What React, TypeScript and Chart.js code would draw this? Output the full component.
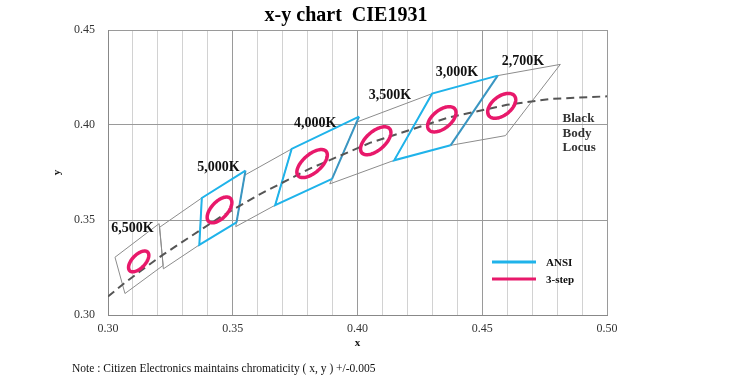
import React, { useEffect, useRef } from "react";
import { Chart, registerables } from "chart.js";

Chart.register(...registerables);

// ANSI C78.377 quadrangle corners: [top-right, top-left, bottom-left, bottom-right]
const q6500X = [0.3205, 0.3028, 0.3068, 0.3221];
const q6500Y = [0.3481, 0.3304, 0.3113, 0.3261];
const q5700X = [0.3376, 0.3207, 0.3222, 0.3366];
const q5700Y = [0.3616, 0.3462, 0.3243, 0.3369];
const q5000X = [0.3551, 0.3376, 0.3366, 0.3515];
const q5000Y = [0.3760, 0.3616, 0.3369, 0.3487];
const q4500X = [0.3736, 0.3548, 0.3512, 0.3670];
const q4500Y = [0.3874, 0.3736, 0.3465, 0.3578];
const q4000X = [0.4006, 0.3736, 0.3670, 0.3898];
const q4000Y = [0.4044, 0.3874, 0.3578, 0.3716];
const q3500X = [0.4299, 0.3996, 0.3889, 0.4147];
const q3500Y = [0.4165, 0.4015, 0.3690, 0.3814];
const q3000X = [0.4562, 0.4299, 0.4147, 0.4373];
const q3000Y = [0.4260, 0.4165, 0.3814, 0.3893];
const q2700X = [0.4813, 0.4562, 0.4373, 0.4593];
const q2700Y = [0.4319, 0.4260, 0.3893, 0.3944];

// Black body locus (dashed)
const locusX = [0.3000, 0.3064, 0.3135, 0.3221, 0.3325, 0.3451, 0.3608, 0.3805, 0.4052, 0.4369, 0.4599, 0.4770, 0.5000];
const locusY = [0.3097, 0.3166, 0.3236, 0.3318, 0.3408, 0.3516, 0.3635, 0.3768, 0.3907, 0.4041, 0.4106, 0.4137, 0.4151];

// 3-step ellipses
const ellCx = [0.3123, 0.3447, 0.3818, 0.4073, 0.4338, 0.4578];
const ellCy = [0.3282, 0.3553, 0.3797, 0.3917, 0.4030, 0.4101];
const ellA = [0.00615, 0.00758, 0.00865, 0.00855, 0.00768, 0.00747];
const ellB = [0.00293, 0.00363, 0.00413, 0.00424, 0.00419, 0.00431];
const ellDeg = [58.6, 59.6, 53.7, 54.0, 53.2, 53.7];

// CCT labels
const cctLabels = ["6,500K", "5,000K", "4,000K", "3,500K", "3,000K", "2,700K"];
const cctLabelX = [0.3098, 0.3443, 0.3830, 0.4130, 0.4399, 0.4663];
const cctLabelY = [0.3457, 0.3779, 0.4011, 0.4156, 0.4279, 0.4335];

const locusText = ["Black", "Body", "Locus"];
const locusTextX = 0.4822;
const locusTextY = [0.4034, 0.3955, 0.3879];

const seriesNames = ["ANSI", "3-step"];

const GRAY = "#8c8c8c";
const BLUE = "#1fb3ea";
const BLUE_DARK = "#3a96c2";
const PINK = "#e8196b";
const SERIF = "'Liberation Serif', 'Times New Roman', serif";

const pts = (xs: number[], ys: number[], idx: number[]) => idx.map((i) => ({ x: xs[i], y: ys[i] }));

const grayQuad = (xs: number[], ys: number[]) => ({
  data: pts(xs, ys, [0, 1, 2, 3, 0]),
  borderColor: GRAY,
  borderWidth: 1,
  order: 3,
});
const blueQuad = (xs: number[], ys: number[]) => ({
  data: pts(xs, ys, [0, 1, 2, 3]),
  borderColor: BLUE,
  borderWidth: 2,
  order: 2,
});
const blueEdge = (xs: number[], ys: number[]) => ({
  data: pts(xs, ys, [3, 0]),
  borderColor: BLUE_DARK,
  borderWidth: 2,
  order: 2,
});

const decorPlugin = {
  id: "decor",
  afterDatasetsDraw(chart: any) {
    const { ctx, scales } = chart;
    const xs = scales.x;
    const ys = scales.y;
    ctx.save();
    // ellipses
    ctx.strokeStyle = PINK;
    ctx.lineWidth = 3.5;
    for (let k = 0; k < ellCx.length; k++) {
      const th = (ellDeg[k] * Math.PI) / 180;
      ctx.beginPath();
      const n = 90;
      for (let i = 0; i <= n; i++) {
        const t = (i / n) * Math.PI * 2;
        const dx = ellA[k] * Math.cos(t) * Math.cos(th) - ellB[k] * Math.sin(t) * Math.sin(th);
        const dy = ellA[k] * Math.cos(t) * Math.sin(th) + ellB[k] * Math.sin(t) * Math.cos(th);
        const px = xs.getPixelForValue(ellCx[k] + dx);
        const py = ys.getPixelForValue(ellCy[k] + dy);
        if (i === 0) ctx.moveTo(px, py);
        else ctx.lineTo(px, py);
      }
      ctx.closePath();
      ctx.stroke();
    }
    // CCT labels
    ctx.fillStyle = "#111";
    ctx.font = `bold 14px ${SERIF}`;
    ctx.textAlign = "center";
    ctx.textBaseline = "middle";
    cctLabels.forEach((s, i) => {
      ctx.fillText(s, xs.getPixelForValue(cctLabelX[i]), ys.getPixelForValue(cctLabelY[i]));
    });
    // Black body locus text
    ctx.fillStyle = "#333";
    ctx.font = `bold 13px ${SERIF}`;
    ctx.textAlign = "left";
    locusText.forEach((s, i) => {
      ctx.fillText(s, xs.getPixelForValue(locusTextX), ys.getPixelForValue(locusTextY[i]));
    });
    // legend
    const lx0 = 492, lx1 = 536, ly = [262, 279];
    const lc = [BLUE, PINK];
    ctx.lineWidth = 3;
    seriesNames.forEach((s, i) => {
      ctx.strokeStyle = lc[i];
      ctx.beginPath();
      ctx.moveTo(lx0, ly[i]);
      ctx.lineTo(lx1, ly[i]);
      ctx.stroke();
      ctx.fillStyle = "#111";
      ctx.font = `bold 11px ${SERIF}`;
      ctx.textAlign = "left";
      ctx.fillText(s, 546, ly[i] + 1);
    });
    // title
    ctx.fillStyle = "#000";
    ctx.font = `bold 20px ${SERIF}`;
    ctx.textAlign = "center";
    ctx.fillText("x-y chart  CIE1931", 346, 16);
    // note
    ctx.fillStyle = "#111";
    ctx.font = `11.5px ${SERIF}`;
    ctx.textAlign = "left";
    ctx.fillText("Note : Citizen Electronics maintains chromaticity ( x, y ) +/-0.005", 72, 369);
    ctx.restore();
  },
};

export default function App() {
  const ref = useRef<HTMLCanvasElement>(null);
  useEffect(() => {
    if (!ref.current) return;
    const datasets: any[] = [
      grayQuad(q6500X, q6500Y),
      grayQuad(q5700X, q5700Y),
      grayQuad(q4500X, q4500Y),
      grayQuad(q3500X, q3500Y),
      grayQuad(q2700X, q2700Y),
      blueQuad(q5000X, q5000Y),
      blueQuad(q4000X, q4000Y),
      blueQuad(q3000X, q3000Y),
      blueEdge(q5000X, q5000Y),
      blueEdge(q4000X, q4000Y),
      blueEdge(q3000X, q3000Y),
      {
        data: locusX.map((x, i) => ({ x, y: locusY[i] })),
        borderColor: "#555",
        borderWidth: 2,
        borderDash: [8, 5],
        order: 1,
      },
    ].map((d) => ({ ...d, showLine: true, pointRadius: 0, fill: false, tension: 0 }));

    const chart = new Chart(ref.current, {
      type: "scatter",
      data: { datasets },
      options: {
        animation: false,
        responsive: false,
        devicePixelRatio: 1,
        layout: { padding: { left: 0, top: 30, right: 123, bottom: 0 } },
        plugins: { legend: { display: false }, tooltip: { enabled: false } },
        scales: {
          x: {
            type: "linear",
            min: 0.3,
            max: 0.5,
            afterFit: (s: any) => {
              s.height = 63;
            },
            ticks: {
              stepSize: 0.01,
              autoSkip: false,
              maxRotation: 0,
              padding: 7,
              color: "#333",
              font: { family: SERIF, size: 12 },
              callback: (v: any) => (Math.round(v * 100) % 5 === 0 ? Number(v).toFixed(2) : ""),
            },
            grid: {
              drawTicks: false,
              color: (c: any) => (Math.round(c.tick.value * 100) % 5 === 0 ? "#9a9a9a" : "#d2d2d2"),
              lineWidth: 1,
            },
            border: { color: "#888", width: 1 },
            title: {
              display: true,
              text: "x",
              color: "#111",
              font: { family: SERIF, size: 11, weight: "bold" },
              padding: { top: 0, bottom: 28 },
            },
          },
          y: {
            type: "linear",
            min: 0.3,
            max: 0.45,
            afterFit: (s: any) => {
              s.width = 108;
            },
            ticks: {
              stepSize: 0.05,
              padding: 13,
              color: "#333",
              font: { family: SERIF, size: 12 },
              callback: (v: any) => Number(v).toFixed(2),
            },
            grid: { drawTicks: false, color: "#9a9a9a", lineWidth: 1 },
            border: { color: "#888", width: 1 },
            title: {
              display: true,
              text: "y",
              color: "#111",
              font: { family: SERIF, size: 11, weight: "bold" },
              padding: { top: 51, bottom: 0 },
            },
          },
        },
      },
      plugins: [decorPlugin],
    } as any);
    return () => chart.destroy();
  }, []);
  return (
    <div style={{ position: "absolute", left: 0, top: 0, width: 730, height: 378, background: "#fff" }}>
      <canvas ref={ref} width={730} height={378} />
    </div>
  );
}
